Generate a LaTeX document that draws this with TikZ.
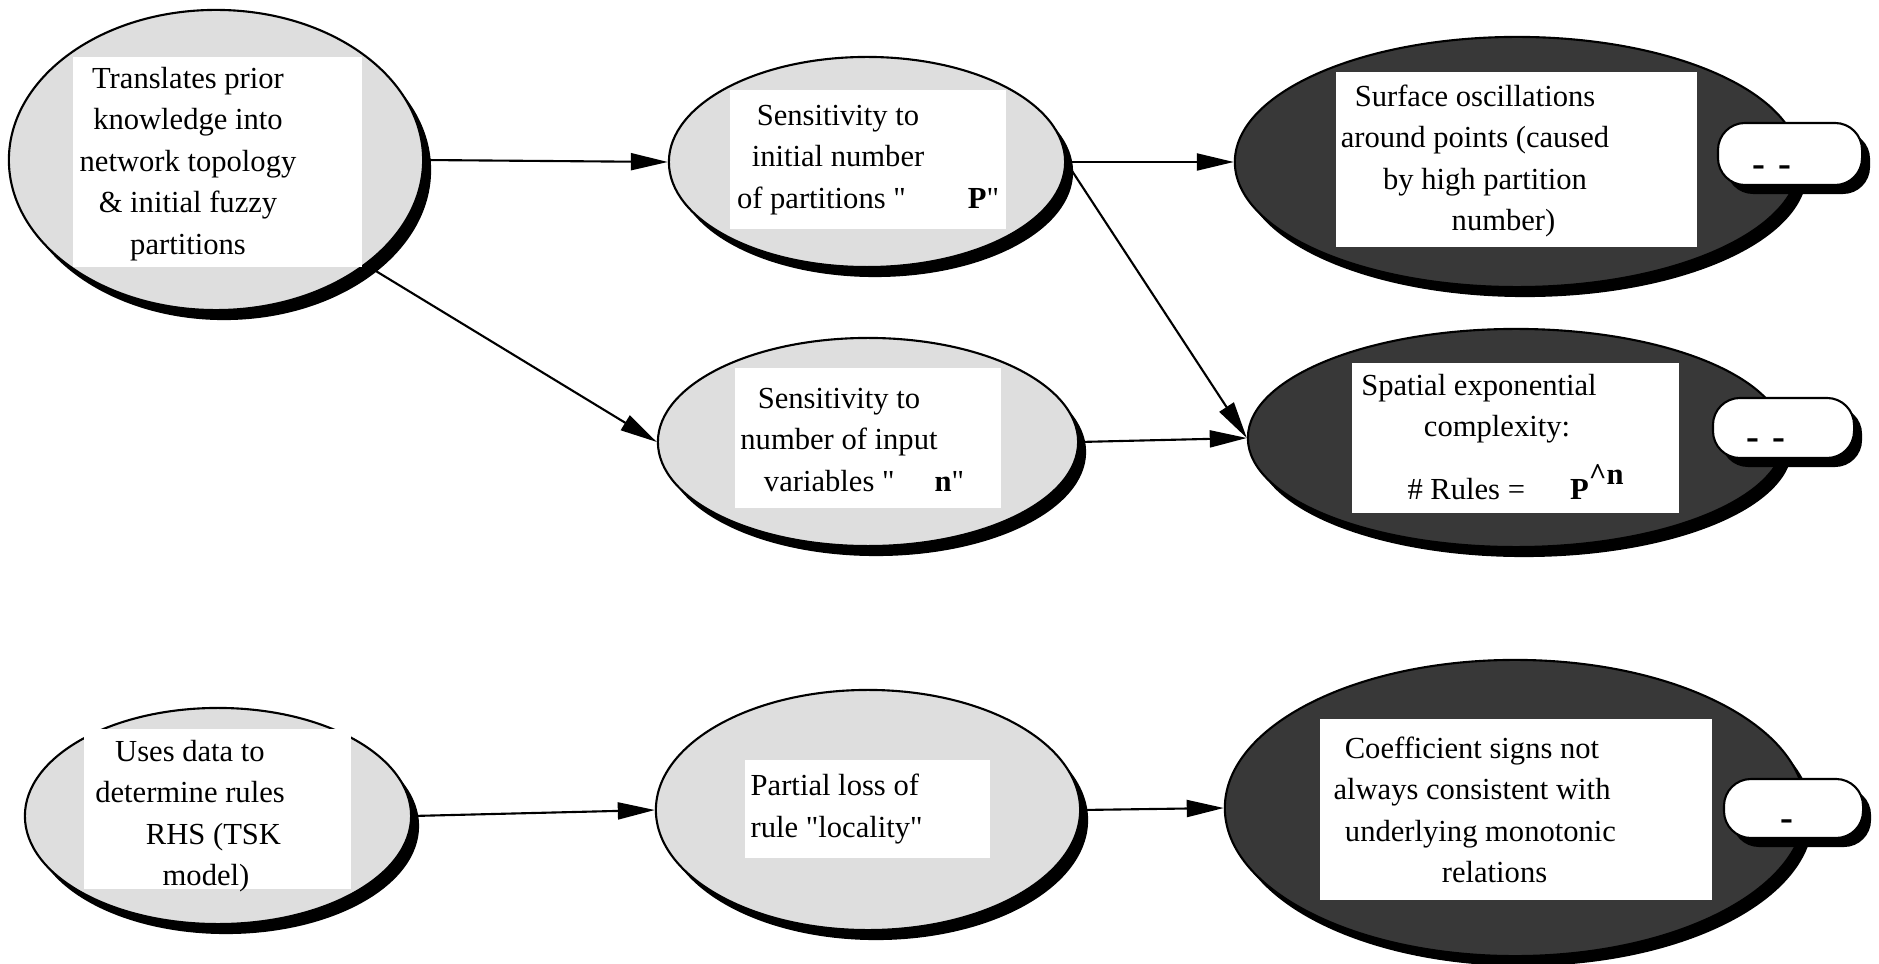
\documentclass[tikz,border=0pt]{standalone}
\usepackage{fontspec}
\setmainfont{Liberation Serif}
\usetikzlibrary{arrows.meta, positioning, shapes.geometric, shadows}
\definecolor{ovallight}{RGB}{222,222,222}
\definecolor{ovaldark}{RGB}{56,56,56}

\begin{document}
\begin{tikzpicture}[x=0.01cm, y=-0.01cm,
  every node/.style={font=\fontsize{8.7}{11.8}\selectfont, inner sep=0pt},
  oval/.style={ellipse, draw, line width=0.6pt, drop shadow={shadow xshift=0.08cm, shadow yshift=-0.1cm, fill=black, opacity=1}},
  txtbox/.style={rectangle, fill=white},
  pill/.style={rectangle, rounded corners=0.27cm, draw, fill=white, line width=0.6pt, drop shadow={shadow xshift=0.08cm, shadow yshift=-0.09cm, fill=black, opacity=1}},
  sign/.style={font=\fontsize{11}{13}\selectfont\bfseries, anchor=base},
  arr/.style={-{Triangle[length=0.37cm, width=0.17cm]}, line width=0.6pt}]
\useasboundingbox (0,0) rectangle (1879,964);
\node[oval, fill=ovallight, minimum width=4.14cm, minimum height=3.0cm] (prior) at (216,160) {};
\node[oval, fill=ovallight, minimum width=3.96cm, minimum height=2.1cm] (sensP) at (867,162) {};
\node[oval, fill=ovaldark, minimum width=5.64cm, minimum height=2.5cm] (surface) at (1517,162) {};
\node[oval, fill=ovallight, minimum width=4.2cm, minimum height=2.08cm] (sensN) at (868,442) {};
\node[oval, fill=ovaldark, minimum width=5.36cm, minimum height=2.18cm] (spatial) at (1516,438) {};
\node[oval, fill=ovallight, minimum width=3.86cm, minimum height=2.16cm] (data) at (218,816) {};
\node[oval, fill=ovallight, minimum width=4.24cm, minimum height=2.4cm] (locality) at (868,810) {};
\node[oval, fill=ovaldark, minimum width=5.8cm, minimum height=2.96cm] (coeff) at (1515,808) {};

\node[txtbox, minimum width=2.89cm, minimum height=2.1cm] (priorbox) at (217.5,162) {};
\node[txtbox, minimum width=2.76cm, minimum height=1.39cm] (sensPbox) at (868,159.5) {};
\node[txtbox, minimum width=3.61cm, minimum height=1.75cm] (surfacebox) at (1516.5,159.5) {};
\node[txtbox, minimum width=2.66cm, minimum height=1.4cm] (sensNbox) at (868,438) {};
\node[txtbox, minimum width=3.27cm, minimum height=1.5cm] (spatialbox) at (1515.5,438) {};
\node[txtbox, minimum width=2.67cm, minimum height=1.6cm] (databox) at (217.5,809) {};
\node[txtbox, minimum width=2.45cm, minimum height=0.98cm] (localitybox) at (867.5,809) {};
\node[txtbox, minimum width=3.92cm, minimum height=1.81cm] (coeffbox) at (1516,809.5) {};

\node[align=center] (priortxt) at (188,164) {Translates prior\\knowledge into\\network topology\\\& initial fuzzy\\partitions};
\node[align=center] (sensPtxt) at (838,160) {Sensitivity to\\initial number\\\hspace*{0.6cm}of partitions \textquotedbl\hspace{0.62cm}\textbf{P}\textquotedbl};
\node[align=center] (surfacetxt) at (1475,161) {Surface oscillations\\around points (caused\\\hspace*{0.2cm}by high partition\\\hspace*{0.57cm}number)};
\node[align=center] (sensNtxt) at (839,440) {Sensitivity to\\number of input\\\hspace*{0.5cm}variables \textquotedbl\hspace{0.4cm}\textbf{n}\textquotedbl};
\node[align=center] (spatialtxt) at (1479,437) {Spatial exponential\\\hspace*{0.36cm}complexity:\\[0.18cm]\hspace*{0.73cm}\# Rules =\hspace{0.45cm}\textbf{P}\raisebox{0.15cm}{\textbf{\textasciicircum n}}};
\node[align=center] (datatxt) at (190,816) {Uses data to\\determine rules\\\hspace*{0.47cm}RHS (TSK\\\hspace*{0.32cm}model)};
\node[align=left, anchor=west] (localitytxt) at (750,809) {Partial loss of\\rule \textquotedbl locality\textquotedbl};
\node[align=center] (coefftxt) at (1472,810) {Coefficient signs not\\always consistent with\\\hspace*{0.17cm}underlying monotonic\\\hspace*{0.45cm}relations};

\node[pill, minimum width=1.44cm, minimum height=0.62cm] (surfacesign) at (1790,154) {};
\node[sign] (surfacedash) at (1772,177) {-\hspace{0.136cm}-};
\node[pill, minimum width=1.41cm, minimum height=0.6cm] (spatialsign) at (1783.5,428) {};
\node[sign] (spatialdash) at (1766,449) {-\hspace{0.136cm}-};
\node[pill, minimum width=1.39cm, minimum height=0.59cm] (coeffsign) at (1793.5,808.5) {};
\node[sign] (coeffdash) at (1786.5,830) {-};

\draw[arr] (prior.east) -- (sensP.west);
\draw[arr] (prior.-35) -- (sensN.west);
\draw[arr] (sensP.east) -- (surface.west);
\draw[arr] (sensP.east) -- (spatial.west);
\draw[arr] (sensN.east) -- (spatial.west);
\draw[arr] (data.east) -- (locality.west);
\draw[arr] (locality.east) -- (coeff.west);
\end{tikzpicture}
\end{document}
